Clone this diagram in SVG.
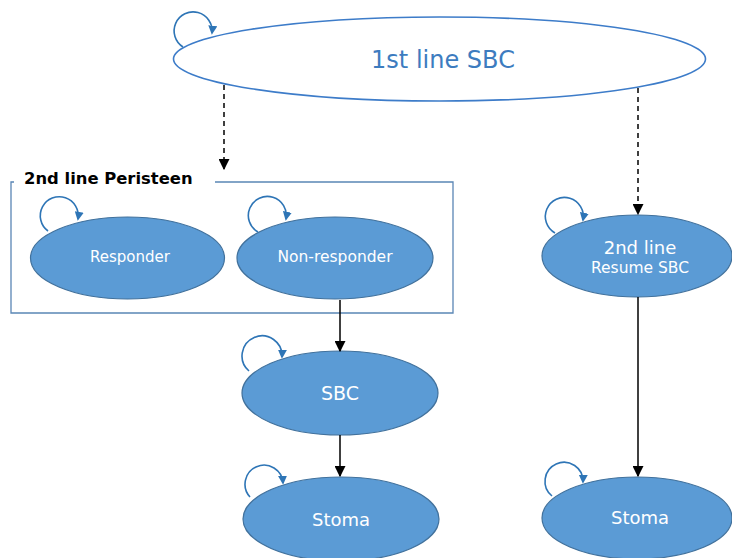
<svg xmlns="http://www.w3.org/2000/svg" width="732" height="558" viewBox="0 0 732 558">
<defs>
<marker id="ah" viewBox="0 0 10 10" refX="9" refY="5" markerWidth="11" markerHeight="11" markerUnits="userSpaceOnUse" orient="auto"><path d="M0,0 L10,5 L0,10 z" fill="#000"/></marker>
<marker id="lh" viewBox="0 0 10 10" refX="8" refY="5" markerWidth="9" markerHeight="9" markerUnits="userSpaceOnUse" orient="auto"><path d="M0,0 L10,5 L0,10 z" fill="#2e75b6"/></marker>
</defs>
<style>
.node{fill:#5b9bd5;stroke:#41719c;stroke-width:1.2}
.lbl{font-family:"DejaVu Sans",Verdana,sans-serif;fill:#fff;text-anchor:middle;dominant-baseline:central}
.loop{fill:none;stroke:#2e75b6;stroke-width:1.6;marker-end:url(#lh)}
.conn{stroke:#000;stroke-width:1.5;fill:none;marker-end:url(#ah)}
.dash{stroke-dasharray:5,4}
</style>
<rect width="732" height="558" fill="#fff"/>
<g id="frame">
<path d="M215,182 H453 V313 H11 V182 H14" fill="none" stroke="#5a86b5" stroke-width="1.3"/>
<text x="24" y="184" font-family="DejaVu Sans,Verdana,sans-serif" font-weight="bold" font-size="16.4" fill="#000">2nd line Peristeen</text>
</g>
<g id="first">
<ellipse cx="439.5" cy="59" rx="266" ry="42" fill="#fff" stroke="#3d7cc9" stroke-width="1.6"/>
<text x="443" y="60" font-family="DejaVu Sans,Verdana,sans-serif" font-size="24" fill="#3d7cbf" text-anchor="middle" dominant-baseline="central">1st line SBC</text>
<path class="loop" d="M183,47 A19,19 0 1 1 212,33"/>
</g>
<g id="responder">
<ellipse class="node" cx="127.5" cy="258" rx="97" ry="41"/>
<text class="lbl" x="130" y="257" font-size="15">Responder</text>
<path class="loop" d="M48,231 A19,19 0 1 1 78,219"/>
</g>
<g id="nonresponder">
<ellipse class="node" cx="335" cy="258" rx="98" ry="41"/>
<text class="lbl" x="335" y="257" font-size="15.5">Non-responder</text>
<path class="loop" d="M258,232 A19,19 0 1 1 286,219"/>
</g>
<g id="resume">
<ellipse class="node" cx="637" cy="256" rx="95" ry="41"/>
<text class="lbl" x="640" y="247" font-size="18">2nd line</text>
<text class="lbl" x="640" y="268" font-size="15.5">Resume SBC</text>
<path class="loop" d="M555,233 A19,19 0 1 1 583,220"/>
</g>
<g id="sbc">
<ellipse class="node" cx="340" cy="393" rx="98" ry="42"/>
<text class="lbl" x="340" y="393" font-size="19">SBC</text>
<path class="loop" d="M249,371 A20,20 0 1 1 282,357"/>
</g>
<g id="stoma1">
<ellipse class="node" cx="341" cy="519" rx="98" ry="42"/>
<text class="lbl" x="341" y="519" font-size="18">Stoma</text>
<path class="loop" d="M250,497 A19,19 0 1 1 283,483"/>
</g>
<g id="stoma2">
<ellipse class="node" cx="637" cy="518" rx="95" ry="41"/>
<text class="lbl" x="640" y="517" font-size="18">Stoma</text>
<path class="loop" d="M552,496 A19,19 0 1 1 583,482"/>
</g>
<g id="connectors">
<line class="conn dash" x1="224" y1="85" x2="224" y2="169"/>
<line class="conn dash" x1="638" y1="88" x2="638" y2="214"/>
<line class="conn" x1="340" y1="300" x2="340" y2="351"/>
<line class="conn" x1="340" y1="435" x2="340" y2="476"/>
<line class="conn" x1="638" y1="297" x2="638" y2="476"/>
</g>
</svg>
